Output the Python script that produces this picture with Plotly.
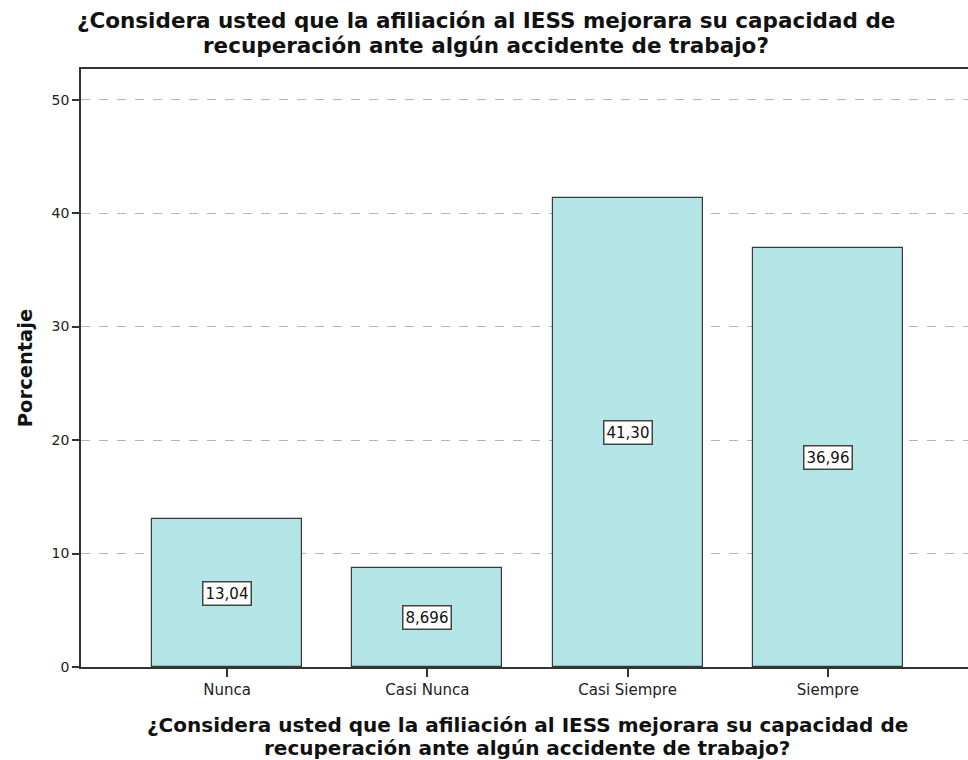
import plotly.graph_objects as go

# datos del gráfico
categorias = ["Nunca", "Casi Nunca", "Casi Siempre", "Siempre"]
porcentajes = [13.04, 8.696, 41.30, 36.96]
etiquetas = ["13,04", "8,696", "41,30", "36,96"]
marcas_y = [0, 10, 20, 30, 40, 50]

lineas_titulo = ["¿Considera usted que la afiliación al IESS mejorara su capacidad de",
                 "recuperación ante algún accidente de trabajo?"]

FUENTE = "DejaVu Sans"

fig = go.Figure()

fig.add_trace(go.Bar(
    x=list(range(len(categorias))), y=porcentajes,
    width=0.75,
    marker=dict(color="#b4e5e6", line=dict(color="#3a3a3a", width=1.2)),
    hoverinfo="skip", showlegend=False,
))

# etiquetas con recuadro en el centro de cada barra
for i, (v, t) in enumerate(zip(porcentajes, etiquetas)):
    fig.add_annotation(x=i, y=v / 2, text=t, showarrow=False,
                       font=dict(family=FUENTE, size=15, color="#111"),
                       bgcolor="white", bordercolor="#444", borderwidth=1.5, borderpad=2)

# título superior (una anotación por línea para controlar el interlineado)
for texto, yp in zip(lineas_titulo, [1.0803, 1.0385]):
    fig.add_annotation(text="<b>" + texto + "</b>", xref="paper", yref="paper",
                       x=0.4566, y=yp, xanchor="center", yanchor="middle", showarrow=False,
                       font=dict(family=FUENTE, size=21.5, color="#111"))
# título del eje x
for texto, yp in zip(lineas_titulo, [-0.097, -0.1355]):
    fig.add_annotation(text="<b>" + texto + "</b>", xref="paper", yref="paper",
                       x=0.503, y=yp, xanchor="center", yanchor="middle", showarrow=False,
                       font=dict(family=FUENTE, size=20, color="#111"))

fig.update_layout(
    width=968, height=760,
    margin=dict(l=81, r=0, t=69, b=93),
    plot_bgcolor="white", paper_bgcolor="white",
    bargap=0,
    font=dict(family=FUENTE, size=15, color="#222"),
    xaxis=dict(
        range=[-0.73, 3.70],
        tickvals=list(range(len(categorias))), ticktext=categorias,
        showline=True, linecolor="#333", linewidth=1.5, mirror=True,
        ticks="outside", ticklen=8, tickcolor="#333", tickwidth=1.5,
        showgrid=False, zeroline=False,
        tickfont=dict(size=15, color="#222"),
    ),
    yaxis=dict(
        range=[0, 52.7], tickvals=marcas_y,
        showline=True, linecolor="#333", linewidth=1.5,
        ticks="outside", ticklen=7, tickcolor="#333", tickwidth=2,
        showgrid=True, gridcolor="#b5b5b5", griddash="dash", gridwidth=1,
        zeroline=False,
        title=dict(text="<b>Porcentaje</b>", font=dict(size=19.5, color="#111"), standoff=14),
        tickfont=dict(size=14, color="#222"),
    ),
)

fig.write_html("out.html", config={"displayModeBar": False},
               post_script="document.body.style.margin='0';")
